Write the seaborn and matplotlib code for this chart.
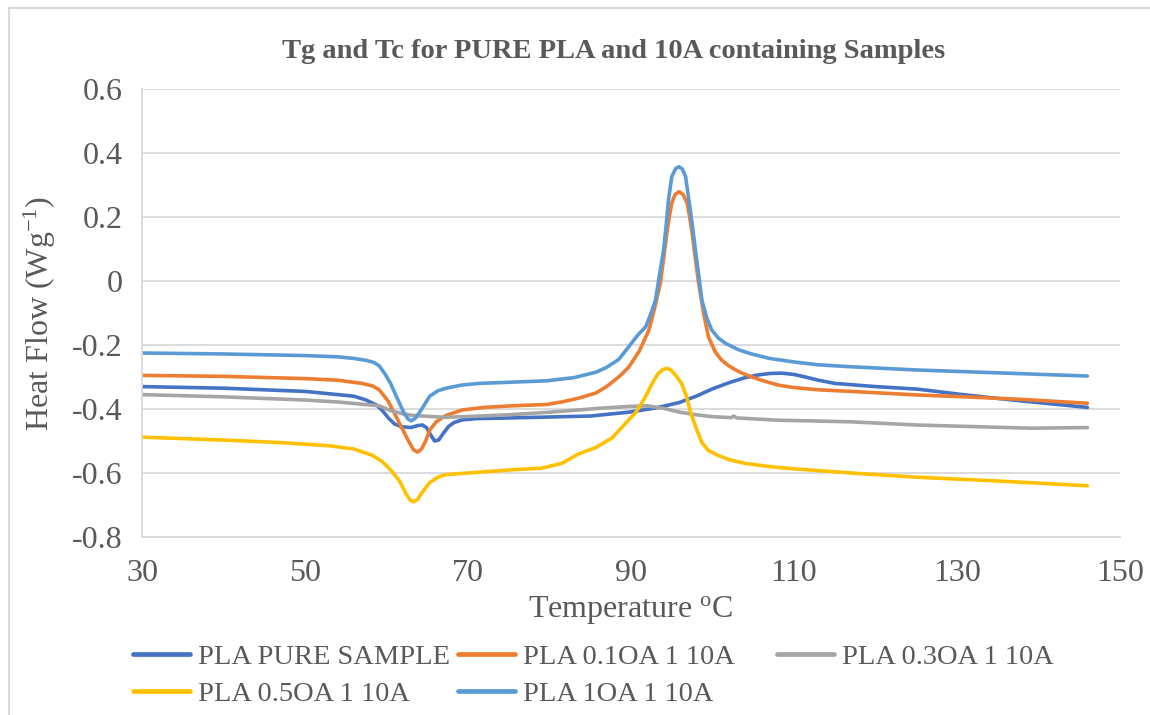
import numpy as np
import pandas as pd
from matplotlib import pyplot as plt
from matplotlib.patches import Rectangle
import seaborn as sns

# DSC readings (temperature in C, heat flow in W/g)
pure_t = [30, 40, 50, 56, 57.5, 58.8, 59.5, 60.3, 61, 61.8, 63, 63.8, 64.4, 64.9, 65.4, 65.9,
          66.4, 67, 67.6, 68.3, 69.3, 71, 75, 80, 85, 89.7, 93, 95.9, 98, 100, 102, 104,
          105.5, 107, 108.5, 110, 111.4, 113, 115, 120, 125.2, 131, 138, 146]
pure_v = [-0.33, -0.335, -0.345, -0.36, -0.372, -0.388, -0.405, -0.43, -0.447, -0.455,
          -0.458, -0.452, -0.45, -0.458, -0.48, -0.50, -0.497, -0.475, -0.455, -0.442, -0.434,
          -0.43, -0.428, -0.425, -0.422, -0.41, -0.397, -0.38, -0.36, -0.337, -0.318, -0.302,
          -0.294, -0.289, -0.288, -0.292, -0.30, -0.31, -0.32, -0.33, -0.338, -0.356, -0.375,
          -0.395]

oa01_t = [30, 40, 50, 54, 57, 58.3, 59.1, 60.2, 61.2, 62.0, 62.7, 63.3, 63.8, 64.3, 64.8,
          65.3, 66.1, 67.3, 69.3, 72, 75.4, 79.6, 81.5, 83.6, 85.7, 87, 88.5, 89.7, 91, 92.2,
          92.9, 93.6, 94.0, 94.4, 94.7, 95.0, 95.4, 95.9, 96.4, 96.9, 97.2, 97.5, 97.9, 98.3,
          98.9, 99.5, 100.3, 101.1, 102, 103.2, 104.5, 106, 108, 110, 113, 117, 125, 131,
          138, 146]
oa01_v = [-0.295, -0.298, -0.305, -0.31, -0.32, -0.328, -0.34, -0.375, -0.425, -0.465, -0.5,
          -0.527, -0.535, -0.525, -0.5, -0.466, -0.44, -0.42, -0.403, -0.395, -0.39, -0.386,
          -0.378, -0.366, -0.35, -0.33, -0.30, -0.27, -0.22, -0.153, -0.085, -0.007, 0.07,
          0.15, 0.20, 0.243, 0.27, 0.279, 0.27, 0.243, 0.20, 0.15, 0.07, -0.007, -0.10,
          -0.174, -0.22, -0.247, -0.265, -0.283, -0.297, -0.31, -0.325, -0.333, -0.34,
          -0.345, -0.356, -0.362, -0.37, -0.382]

oa03_t = [30, 40, 50, 54, 57, 59.1, 60.5, 62, 63.2, 67.3, 71.4, 75, 80, 83.6, 86, 89.7, 92,
          94, 96, 98, 100, 102.3, 102.6, 103, 108, 117, 125, 132, 139, 146]
oa03_v = [-0.355, -0.362, -0.372, -0.378, -0.385, -0.39, -0.405, -0.415, -0.42, -0.426,
          -0.422, -0.418, -0.41, -0.403, -0.398, -0.392, -0.39, -0.398, -0.41, -0.418, -0.424,
          -0.427, -0.422, -0.428, -0.435, -0.44, -0.45, -0.455, -0.46, -0.458]

oa05_t = [30, 40, 47, 53, 56, 58.3, 59.5, 60.5, 61.6, 62.4, 62.9, 63.3, 63.8, 64.4, 65.3,
          66.3, 67.3, 70, 75.4, 79, 81.5, 83.6, 85.7, 87.7, 89.5, 90.6, 91.6, 92.6, 93.3,
          93.9, 94.4, 94.9, 95.5, 96.2, 96.8, 97.3, 98, 98.7, 99.5, 100.7, 102, 104, 107,
          110, 117, 125, 135, 146]
oa05_v = [-0.488, -0.497, -0.505, -0.515, -0.525, -0.545, -0.565, -0.59, -0.625, -0.665,
          -0.685, -0.69, -0.683, -0.66, -0.63, -0.613, -0.605, -0.60, -0.59, -0.585, -0.57,
          -0.54, -0.52, -0.49, -0.44, -0.41, -0.37, -0.32, -0.29, -0.277, -0.273, -0.278,
          -0.295, -0.32, -0.36, -0.41, -0.46, -0.505, -0.53, -0.545, -0.558, -0.57, -0.58,
          -0.587, -0.60, -0.613, -0.625, -0.64]

oa1_t = [30, 40, 50, 54, 56, 57.5, 58.5, 59.1, 59.8, 60.5, 61.2, 62.1, 62.6, 63, 63.5, 64.2,
         65.3, 66.3, 67.3, 69.3, 71.4, 79.6, 83, 85.7, 87, 88.5, 89.7, 90.8, 91.8, 92.4, 93.0,
         93.5, 94.0, 94.3, 94.6, 95.0, 95.5, 95.9, 96.3, 96.7, 97.1, 97.5, 97.9, 98.3, 98.7,
         99.3, 99.9, 100.7, 101.6, 103.2, 104.8, 107, 110, 113, 117, 125, 135, 146]
oa1_v = [-0.225, -0.228, -0.233, -0.237, -0.242, -0.248, -0.255, -0.265, -0.29, -0.32, -0.36,
         -0.41, -0.43, -0.437, -0.43, -0.405, -0.36, -0.343, -0.335, -0.325, -0.32, -0.312,
         -0.302, -0.285, -0.27, -0.245, -0.206, -0.17, -0.143, -0.105, -0.06, 0.02, 0.097,
         0.17, 0.253, 0.326, 0.352, 0.357, 0.35, 0.326, 0.253, 0.18, 0.097, 0.02, -0.06,
         -0.115, -0.153, -0.178, -0.195, -0.215, -0.228, -0.242, -0.253, -0.262, -0.268,
         -0.278, -0.287, -0.297]

labels = ["PLA PURE SAMPLE", "PLA 0.1OA 1 10A", "PLA 0.3OA 1 10A",
          "PLA 0.5OA 1 10A", "PLA 1OA 1 10A"]
colors = ["#4472C4", "#ED7D31", "#A5A5A5", "#FFC000", "#5B9BD5"]

y_ticks = [-0.8, -0.6, -0.4, -0.2, 0, 0.2, 0.4, 0.6]
y_tick_labels = ["-0.8", "-0.6", "-0.4", "-0.2", "0", "0.2", "0.4", "0.6"]
x_ticks = [30, 50, 70, 90, 110, 130, 150]

series = [(pure_t, pure_v), (oa01_t, oa01_v), (oa03_t, oa03_v), (oa05_t, oa05_v), (oa1_t, oa1_v)]
frames = []
for label, (t, v) in zip(labels, series):
    frames.append(pd.DataFrame({"Temperature": t, "Heat Flow": v, "Sample": label}))
df = pd.concat(frames, ignore_index=True)

sns.set_style("white")
plt.rcParams["font.family"] = ["Liberation Serif", "DejaVu Serif"]
plt.rcParams["mathtext.fontset"] = "custom"
plt.rcParams["mathtext.rm"] = "Liberation Serif"
plt.rcParams["mathtext.it"] = "Liberation Serif:italic"
plt.rcParams["axes.unicode_minus"] = False

text_color = "#595959"
grid_color = "#D9D9D9"

fig = plt.figure(figsize=(11.5, 7.15), dpi=100)
ax = fig.add_axes([142 / 1150, 1 - 537 / 715, (1120 - 142) / 1150, (537 - 89) / 715])

sns.lineplot(data=df, x="Temperature", y="Heat Flow", hue="Sample", hue_order=labels,
             palette=colors, estimator=None, sort=True, linewidth=2.6, ax=ax, legend=False)
for line in ax.lines:
    line.set_solid_joinstyle("round")
    line.set_solid_capstyle("round")

ax.set_xlim(30, 150)
ax.set_ylim(-0.8, 0.6)
ax.set_xticks(x_ticks)
ax.set_xticklabels([str(x) for x in x_ticks])
ax.set_yticks(y_ticks)
ax.set_yticklabels(y_tick_labels)
ax.tick_params(axis="both", length=0, labelsize=23, labelcolor=text_color)
ax.tick_params(axis="x", pad=16)
ax.tick_params(axis="y", pad=14)

ax.grid(axis="y", color=grid_color, linewidth=1.3)
ax.grid(axis="x", visible=False)
for side in ["top", "right"]:
    ax.spines[side].set_visible(False)
for side in ["left", "bottom"]:
    ax.spines[side].set_color(grid_color)
    ax.spines[side].set_linewidth(1.3)

ax.set_xlabel(r"Temperature $^{\mathrm{o}}$C", fontsize=23, color=text_color, labelpad=4)
ax.set_ylabel("Heat Flow (Wg$^{\\mathrm{-1}}$)", fontsize=23, color=text_color, labelpad=10)
fig.text(614 / 1150, 1 - 52 / 715, "Tg and Tc for PURE PLA and 10A containing Samples",
         ha="center", va="center", fontsize=20.5, fontweight="bold", color=text_color)

# legend: two blocks so the third column sits where Excel put it
handles = [plt.Line2D([], [], color=c, linewidth=3.4) for c in colors]
leg_kw = dict(frameon=False, fontsize=20.5, labelcolor=text_color, handlelength=2.0,
              handletextpad=0.28, columnspacing=0.3, labelspacing=0.38, borderpad=0,
              borderaxespad=0, loc="upper left")
order = [0, 3, 1, 4]
fig.legend([handles[i] for i in order], [labels[i] for i in order], ncol=2,
           bbox_to_anchor=(133 / 1150, 1 - 644 / 715), **leg_kw)
fig.legend([handles[2]], [labels[2]], ncol=1,
           bbox_to_anchor=(777 / 1150, 1 - 644 / 715), **leg_kw)

fig.patches.append(Rectangle((9 / 1150, -0.1), 2, 1.1 - 8 / 715, transform=fig.transFigure,
                             fill=False, edgecolor=grid_color, linewidth=1.5))

fig.savefig("out.png", dpi=100)
